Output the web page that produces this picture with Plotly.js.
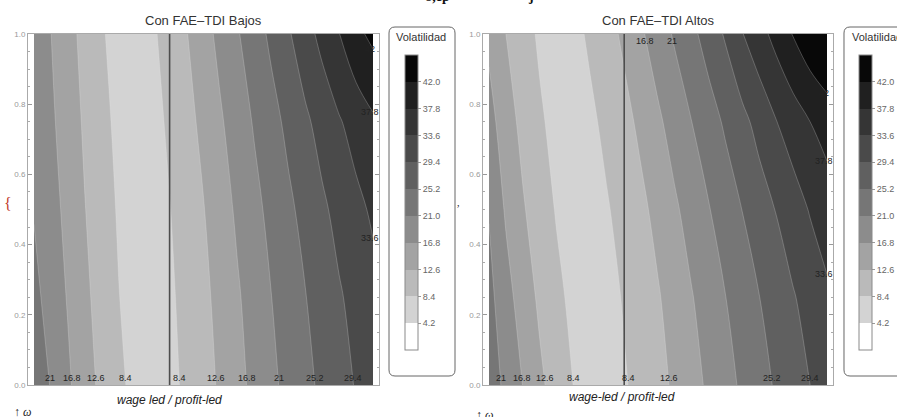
<!DOCTYPE html>
<html>
<head>
<meta charset="utf-8">
<script src="https://cdn.plot.ly/plotly-3.0.1.min.js"></script>
<style>
  html, body { margin: 0; padding: 0; background: #ffffff; }
  #chart { width: 897px; height: 417px; }
</style>
</head>
<body>
<div id="chart"></div>
<script>
// Regime position (x, wage led -> profit led) and wage share ω (y)
const xGrid = [0, 0.05, 0.1, 0.15, 0.2, 0.25, 0.3, 0.35, 0.4, 0.45, 0.5,
               0.55, 0.6, 0.65, 0.7, 0.75, 0.8, 0.85, 0.9, 0.95, 1];
const yGrid = [0, 0.25, 0.5, 0.75, 1];

// Volatility, low FAE-TDI (rows follow yGrid)
const volBajos = [
  [24.0, 20.74, 17.46, 14.37, 11.6, 9.21, 7.25, 5.5, 7.31, 9.18, 11.12, 13.17, 15.56, 17.87, 20.11, 22.17, 24.11, 26.02, 27.88, 29.67, 31.15],
  [22.16, 19.34, 16.5, 13.5, 10.91, 8.5, 6.72, 6.02, 7.74, 9.64, 11.64, 13.87, 16.31, 18.65, 20.95, 23.0, 25.04, 27.01, 28.97, 30.66, 32.28],
  [20.76, 18.31, 15.68, 12.72, 10.26, 7.98, 6.23, 6.51, 8.26, 10.33, 12.43, 14.96, 17.47, 19.85, 22.14, 24.33, 26.5, 28.66, 30.64, 32.51, 34.23],
  [19.69, 17.5, 14.82, 12.01, 9.54, 7.44, 5.66, 7.12, 9.03, 11.26, 13.66, 16.32, 18.87, 21.38, 23.77, 26.18, 28.62, 30.95, 33.23, 35.23, 37.18],
  [18.8, 16.84, 14.02, 11.33, 8.8, 6.86, 5.98, 7.81, 10.02, 12.41, 15.21, 17.97, 20.63, 23.32, 26.05, 28.89, 31.9, 34.85, 37.69, 40.95, 43.0]
];

// Volatility, high FAE-TDI (rows follow yGrid)
const volAltos = [
  [23.3, 20.02, 16.73, 13.45, 10.77, 8.33, 6.55, 6.23, 8.01, 9.72, 11.41, 13.24, 15.36, 17.48, 19.6, 21.69, 23.71, 25.68, 27.54, 29.4, 31.12],
  [22.24, 18.36, 14.86, 11.85, 9.37, 7.37, 5.67, 7.04, 8.75, 10.5, 12.25, 14.37, 16.58, 18.77, 20.96, 23.06, 25.16, 27.12, 29.09, 30.99, 32.88],
  [20.76, 16.28, 13.02, 10.44, 8.09, 6.36, 6.36, 8.09, 9.88, 11.69, 13.79, 16.18, 18.49, 20.77, 23.03, 25.29, 27.43, 29.58, 31.76, 33.88, 35.63],
  [18.41, 14.41, 11.51, 9.02, 7.04, 5.78, 7.6, 9.47, 11.38, 13.52, 16.08, 18.56, 21.0, 23.41, 25.83, 28.28, 30.84, 33.49, 35.66, 37.8, 39.56],
  [15.83, 12.6, 10.1, 7.77, 5.81, 7.15, 9.13, 11.15, 13.39, 16.23, 18.9, 21.53, 24.19, 26.96, 29.9, 33.46, 36.29, 39.2, 42.24, 45.0, 47.0]
];

// Contour levels and the regime boundary (wage led | profit led)
const levels = [4.2, 8.4, 12.6, 16.8, 21, 25.2, 29.4, 33.6, 37.8, 42];
const regimeBoundary = 0.4;

// Contour labels shown on the plot edges
const bajosBottomLeft = [21, 16.8, 12.6, 8.4];
const bajosBottomRight = [8.4, 12.6, 16.8, 21, 25.2, 29.4];
const bajosRightEdge = [33.6, 37.8, 42];
const altosBottomLeft = [21, 16.8, 12.6, 8.4];
const altosBottomRight = [8.4, 12.6, 25.2, 29.4];
const altosTopRight = [16.8, 21];
const altosRightEdge = [33.6, 37.8, 42];

// One gray per band: below 4.2, each 4.2-wide band, above 42
const bandGrays = ['#ffffff', '#d3d3d3', '#bababa', '#a3a3a3', '#8c8c8c', '#767676',
                   '#606060', '#4a4a4a', '#353535', '#202020', '#080808'];

const W = 897, H = 417;
const px = v => v / W;
const py = v => 1 - v / H;

const step = levels[1] - levels[0];
const contourScale = bandGrays.map((c, i) => [i / (bandGrays.length - 1), c]);
const barScale = [];
bandGrays.forEach((c, i) => {
  barScale.push([i / bandGrays.length, c]);
  barScale.push([(i + 1) / bandGrays.length, c]);
});
const fmt = v => String(Math.round(v * 10) / 10);

function crossings(vals, coords, level) {
  const out = [];
  for (let i = 0; i < vals.length - 1; i++) {
    const a = vals[i] - level, b = vals[i + 1] - level;
    if (a === 0) out.push(coords[i]);
    else if (a * b < 0) out.push(coords[i] + (level - vals[i]) / (vals[i + 1] - vals[i]) * (coords[i + 1] - coords[i]));
  }
  if (vals[vals.length - 1] === level) out.push(coords[coords.length - 1]);
  return out;
}

const labelFont = { family: 'Liberation Sans, Arial, sans-serif', size: 9, color: '#222' };

function rowLabels(row, lvls, side, xa, ya, yVal, yanchor) {
  const res = [];
  lvls.forEach(L => {
    const xs = crossings(row, xGrid, L).filter(x => side === 'left' ? x < regimeBoundary : x > regimeBoundary);
    if (!xs.length) return;
    res.push({ xref: xa, yref: ya, x: xs[0], y: yVal, text: fmt(L), showarrow: false,
               xanchor: 'center', yanchor: yanchor, font: labelFont });
  });
  return res;
}

function edgeLabels(z, lvls, xa, ya) {
  const col = z.map(r => r[r.length - 1]);
  const res = [];
  lvls.forEach(L => {
    const ys = crossings(col, yGrid, L);
    if (!ys.length) return;
    res.push({ xref: xa, yref: ya, x: xGrid[xGrid.length - 1], y: ys[0], text: fmt(L), showarrow: false,
               xanchor: 'center', yanchor: 'middle', xshift: -3, font: labelFont });
  });
  return res;
}

function contourTrace(z, xa, ya) {
  return {
    type: 'contour', x: xGrid, y: yGrid, z: z, xaxis: xa, yaxis: ya,
    autocontour: false,
    contours: { start: levels[0], end: levels[levels.length - 1], size: step, coloring: 'fill', showlabels: false },
    colorscale: contourScale, showscale: false,
    line: { color: 'rgba(235,235,235,0.35)', width: 0.7, smoothing: 1 },
    hoverinfo: 'skip'
  };
}

function scaleTrace(xa, ya, barLeftPx) {
  return {
    type: 'scatter', mode: 'markers', xaxis: xa, yaxis: ya,
    x: levels.map(() => null), y: levels.map(() => null),
    hoverinfo: 'skip', showlegend: false,
    marker: {
      color: levels, cmin: 0, cmax: levels[levels.length - 1] + step,
      colorscale: barScale, showscale: true,
      colorbar: {
        x: px(barLeftPx), xanchor: 'left', xpad: 0,
        y: py(202.5), yanchor: 'middle', ypad: 0,
        len: 295, lenmode: 'pixels', thickness: 13, thicknessmode: 'pixels',
        outlinecolor: '#8a8a8a', outlinewidth: 1, borderwidth: 0,
        tickmode: 'array', tickvals: levels, ticktext: levels.map(v => v.toFixed(1)),
        ticks: 'outside', ticklen: 3, tickcolor: '#999',
        tickfont: { family: 'Liberation Sans, Arial, sans-serif', size: 9, color: '#666' },
        title: { text: '' }
      }
    }
  };
}

function roundRect(x0, y0, x1, y1, r) {
  const X = v => px(v).toFixed(5), Y = v => py(v).toFixed(5);
  return `M${X(x0 + r)},${Y(y0)} L${X(x1 - r)},${Y(y0)} Q${X(x1)},${Y(y0)} ${X(x1)},${Y(y0 + r)} ` +
         `L${X(x1)},${Y(y1 - r)} Q${X(x1)},${Y(y1)} ${X(x1 - r)},${Y(y1)} ` +
         `L${X(x0 + r)},${Y(y1)} Q${X(x0)},${Y(y1)} ${X(x0)},${Y(y1 - r)} ` +
         `L${X(x0)},${Y(y0 + r)} Q${X(x0)},${Y(y0)} ${X(x0 + r)},${Y(y0)} Z`;
}

const pad = 0.0177;
const xAxisBase = {
  range: [-pad, 1 + pad], showline: true, linecolor: '#aaa', linewidth: 1, mirror: true,
  ticks: '', showticklabels: false, showgrid: false, zeroline: false, fixedrange: true
};
const yAxisBase = {
  domain: [py(385), py(34)], range: [0, 1], showline: true, linecolor: '#aaa', linewidth: 1,
  mirror: 'allticks', ticks: 'inside', ticklen: 4, tickwidth: 1, tickcolor: '#999',
  tick0: 0, dtick: 0.2, tickformat: '.1f',
  tickfont: { family: 'Liberation Sans, Arial, sans-serif', size: 8, color: '#999' },
  minor: { tick0: 0, dtick: 0.05, ticks: 'inside', ticklen: 2, tickcolor: '#aaa' },
  showgrid: false, zeroline: false, fixedrange: true
};

const textFont = { family: 'Liberation Sans, Arial, sans-serif', size: 13, color: '#333' };
const paperText = (x, y, text, font) => ({
  xref: 'paper', yref: 'paper', x: px(x), y: py(y), text: text, showarrow: false,
  xanchor: 'center', yanchor: 'middle', font: font
});

const annotations = [
  paperText(203.5, 20, 'Con FAE–TDI Bajos', textFont),
  paperText(658, 20, 'Con FAE–TDI Altos', textFont),
  paperText(421, 37, 'Volatilidad', { family: 'Liberation Sans, Arial, sans-serif', size: 11, color: '#333' }),
  paperText(877, 37, 'Volatilidad', { family: 'Liberation Sans, Arial, sans-serif', size: 11, color: '#333' }),
  paperText(169, 400, '<i>wage led / profit-led</i>', { family: 'Liberation Sans, Arial, sans-serif', size: 12, color: '#222' }),
  paperText(622, 397, '<i>wage-led / profit-led</i>', { family: 'Liberation Sans, Arial, sans-serif', size: 12, color: '#222' }),
  paperText(22, 412, '<i>↑ ω</i>', { family: 'Liberation Serif, serif', size: 12, color: '#222' }),
  paperText(484, 415, '<i>↑ ω</i>', { family: 'Liberation Serif, serif', size: 12, color: '#222' }),
  paperText(8, 203, '{', { family: 'Liberation Serif, serif', size: 16, color: '#c0392b' }),
  paperText(458, 202, ',', { family: 'Liberation Serif, serif', size: 10, color: '#111' }),
  paperText(437, -4, '<b>δ,ep</b>', { family: 'Liberation Serif, serif', size: 14, color: '#111' }),
  paperText(531, -4, '<b>j</b>', { family: 'Liberation Serif, serif', size: 14, color: '#111' })
].concat(
  rowLabels(volBajos[0], bajosBottomLeft, 'left', 'x', 'y', 0, 'bottom'),
  rowLabels(volBajos[0], bajosBottomRight, 'right', 'x', 'y', 0, 'bottom'),
  edgeLabels(volBajos, bajosRightEdge, 'x', 'y'),
  rowLabels(volAltos[0], altosBottomLeft, 'left', 'x2', 'y2', 0, 'bottom'),
  rowLabels(volAltos[0], altosBottomRight, 'right', 'x2', 'y2', 0, 'bottom'),
  rowLabels(volAltos[volAltos.length - 1], altosTopRight, 'right', 'x2', 'y2', 1, 'top'),
  edgeLabels(volAltos, altosRightEdge, 'x2', 'y2')
);

const shapes = [
  { type: 'line', xref: 'x', yref: 'y', x0: regimeBoundary, x1: regimeBoundary, y0: 0, y1: 1,
    line: { color: '#4d4d4d', width: 1.6 } },
  { type: 'line', xref: 'x2', yref: 'y2', x0: regimeBoundary, x1: regimeBoundary, y0: 0, y1: 1,
    line: { color: '#4d4d4d', width: 1.6 } },
  { type: 'path', xref: 'paper', yref: 'paper', path: roundRect(389, 27, 455, 376, 6),
    line: { color: '#666', width: 1 }, fillcolor: 'rgba(0,0,0,0)', layer: 'below' },
  { type: 'path', xref: 'paper', yref: 'paper', path: roundRect(844, 27, 915, 376, 6),
    line: { color: '#666', width: 1 }, fillcolor: 'rgba(0,0,0,0)', layer: 'below' }
];

const layout = {
  width: W, height: H,
  margin: { l: 0, r: 0, t: 0, b: 0, autoexpand: false },
  paper_bgcolor: '#ffffff', plot_bgcolor: '#ffffff',
  showlegend: false,
  font: { family: 'Liberation Sans, Arial, sans-serif' },
  xaxis: Object.assign({}, xAxisBase, { domain: [px(28), px(379)], anchor: 'y' }),
  yaxis: Object.assign({}, yAxisBase, { anchor: 'x' }),
  xaxis2: Object.assign({}, xAxisBase, { domain: [px(483), px(833)], anchor: 'y2' }),
  yaxis2: Object.assign({}, yAxisBase, { anchor: 'x2' }),
  annotations: annotations,
  shapes: shapes
};

const data = [
  contourTrace(volBajos, 'x', 'y'),
  contourTrace(volAltos, 'x2', 'y2'),
  scaleTrace('x', 'y', 405),
  scaleTrace('x2', 'y2', 859)
];

Plotly.newPlot('chart', data, layout, { staticPlot: true, displayModeBar: false });
</script>
</body>
</html>
